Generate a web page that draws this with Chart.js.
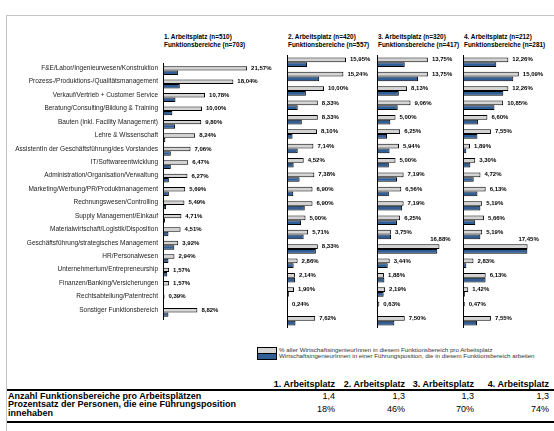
<!DOCTYPE html>
<html>
<head>
<meta charset="utf-8">
<script src="https://cdn.jsdelivr.net/npm/chart.js@4/dist/chart.umd.min.js"></script>
<style>
  body { margin: 0; background: #fff; }
  #page { position: relative; width: 554px; height: 431px; overflow: hidden; font-family: "Liberation Sans", Arial, sans-serif; color: #000; }
  #frame { position: absolute; left: 6px; top: 15px; width: 600px; height: 500px; border-left: 1px solid #c4c4c4; border-top: 1px solid #c4c4c4; }
  canvas { position: absolute; top: 55px; }
  .kopf { position: absolute; top: 33px; font-size: 6.4px; font-weight: bold; line-height: 8px; white-space: nowrap; }
  .leg { position: absolute; left: 279px; font-size: 6.2px; color: #333; white-space: nowrap; line-height: 6px; }
  .box { position: absolute; left: 257px; width: 18px; border: 1px solid #000; }
  .zelle { position: absolute; font-size: 9px; white-space: nowrap; line-height: 9px; }
  .linie { position: absolute; left: 7px; width: 547px; height: 2px; background: #000; }
</style>
</head>
<body>
<div id="page">
  <div id="frame"></div>
</div>
<script>
const bereiche = [
  "F&E/Labor/Ingenieurwesen/Konstruktion",
  "Prozess-/Produktions-/Qualitätsmanagement",
  "Verkauf/Vertrieb + Customer Service",
  "Beratung/Consulting/Bildung & Training",
  "Bauten (inkl. Facility Management)",
  "Lehre & Wissenschaft",
  "AssistentIn der Geschäftsführung/des Vorstandes",
  "IT/Softwareentwicklung",
  "Administration/Organisation/Verwaltung",
  "Marketing/Werbung/PR/Produktmanagement",
  "Rechnungswesen/Controlling",
  "Supply Management/Einkauf",
  "Materialwirtschaft/Logistik/Disposition",
  "Geschäftsführung/strategisches Management",
  "HR/Personalwesen",
  "Unternehmertum/Entrepreneurship",
  "Finanzen/Banking/Versicherungen",
  "Rechtsabteilung/Patentrecht",
  "Sonstiger Funktionsbereich"
];

const platzTitel = ["1. Arbeitsplatz (n=510)", "2. Arbeitsplatz (n=420)", "3. Arbeitsplatz (n=320)", "4. Arbeitsplatz (n=212)"];
const bereichTitel = ["Funktionsbereiche (n=703)", "Funktionsbereiche (n=557)", "Funktionsbereiche (n=417)", "Funktionsbereiche (n=281)"];

// % aller WirtschaftsingenieurInnen im Funktionsbereich
const alle1 = [21.57, 18.04, 10.78, 10.00, 9.80, 8.24, 7.06, 6.47, 6.27, 5.69, 5.49, 4.71, 4.51, 3.92, 2.94, 1.57, 1.57, 0.39, 8.82];
const alle2 = [15.95, 15.24, 10.00, 8.33, 8.33, 8.10, 7.14, 4.52, 7.38, 6.90, 6.90, 5.00, 5.71, 8.33, 2.86, 2.14, 1.90, 0.24, 7.62];
const alle3 = [13.75, 13.75, 8.13, 9.06, 5.00, 6.25, 5.94, 5.00, 7.19, 6.56, 7.19, 6.25, 3.75, 16.88, 3.44, 1.88, 2.19, 0.63, 7.50];
const alle4 = [12.26, 15.09, 12.26, 10.85, 6.60, 7.55, 1.89, 3.30, 4.72, 6.13, 5.19, 5.66, 5.19, 17.45, 2.83, 6.13, 1.42, 0.47, 7.55];

// WirtschaftsingenieurInnen in Führungsposition (geschätzt)
const fuehrung1 = [3.9, 4.3, 3.2, 2.4, 3.1, 0.6, 2.0, 2.0, 1.5, 1.5, 0.8, 0.5, 1.4, 2.9, 1.4, 1.1, 0, 0.25, 1.4];
const fuehrung2 = [5.4, 8.7, 5.1, 2.9, 4.0, 1.5, 2.9, 1.8, 3.4, 1.7, 4.8, 3.8, 4.5, 7.8, 1.8, 2.2, 0.5, 0, 2.3];
const fuehrung3 = [7.5, 11.1, 5.9, 5.6, 3.6, 2.7, 3.4, 3.2, 5.4, 3.2, 6.8, 5.4, 3.8, 16.3, 2.9, 2.0, 1.8, 0, 4.7];
const fuehrung4 = [9.0, 13.6, 10.9, 8.5, 4.1, 3.9, 0.9, 2.0, 2.9, 3.9, 4.7, 3.3, 4.7, 17.4, 0.9, 6.1, 0.5, 0, 3.8];

const legende = [
  "% aller WirtschaftsingenieurInnen in diesem Funktionsbereich pro Arbeitsplatz",
  "WirtschaftsingenieurInnen in einer Führungsposition, die in diesem Funktionsbereich arbeiten"
];

const spalten = ["1. Arbeitsplatz", "2. Arbeitsplatz", "3. Arbeitsplatz", "4. Arbeitsplatz"];
const zeilen = ["Anzahl Funktionsbereiche pro Arbeitsplätzen", "Prozentsatz der Personen, die eine Führungsposition innehaben"];
const anzahlBereiche = [1.4, 1.3, 1.3, 1.3];
const fuehrungsQuote = [18, 46, 70, 74];

const FONT = "'Liberation Sans', Arial, sans-serif";
const GRAU = "#d4d4d4";
const BLAU = "#2f5f96";
const komma = (v, d) => v.toFixed(d).replace(".", ",");

const werteLabels = {
  id: "werte",
  afterDatasetsDraw(chart, args, opts) {
    const ctx = chart.ctx;
    ctx.save();
    ctx.font = "bold 6px " + FONT;
    ctx.fillStyle = "#000";
    ctx.textBaseline = "middle";
    chart.getDatasetMeta(0).data.forEach((bar, i) => {
      const txt = komma(chart.data.datasets[0].data[i], 2) + "%";
      const w = ctx.measureText(txt).width;
      if (bar.x + 4 + w > opts.grenze) {
        ctx.textAlign = "center";
        ctx.fillText(txt, bar.x + 1, bar.y - 7);
      } else {
        ctx.textAlign = "left";
        ctx.fillText(txt, bar.x + 4, bar.y);
      }
    });
    ctx.restore();
  }
};

const panels = [
  { left: 0, achse: 163, breite: 97.5, namen: true, grenze: 283, alle: alle1, fuehrung: fuehrung1 },
  { left: 283, achse: 4, breite: 92.5, namen: false, grenze: 374, alle: alle2, fuehrung: fuehrung2 },
  { left: 373, achse: 4, breite: 92.5, namen: false, grenze: 459, alle: alle3, fuehrung: fuehrung3 },
  { left: 459, achse: 4, breite: 92.5, namen: false, grenze: 551, alle: alle4, fuehrung: fuehrung4 }
];

const page = document.getElementById("page");

panels.forEach((p, n) => {
  const kopf = document.createElement("div");
  kopf.className = "kopf";
  kopf.style.left = (p.left + p.achse + 1) + "px";
  kopf.innerHTML = platzTitel[n] + "<br>" + bereichTitel[n];
  page.appendChild(kopf);

  const canvas = document.createElement("canvas");
  const w = Math.ceil(p.achse + p.breite + 30);
  canvas.width = w;
  canvas.height = 273;
  canvas.style.left = p.left + "px";
  page.appendChild(canvas);

  new Chart(canvas, {
    type: "bar",
    data: {
      labels: bereiche,
      datasets: [
        { data: p.alle, backgroundColor: GRAU, borderColor: "#000", borderWidth: 1, borderSkipped: false, categoryPercentage: 0.66, barPercentage: 1 },
        { data: p.fuehrung, backgroundColor: BLAU, borderColor: "#000", borderWidth: 1, borderSkipped: false, categoryPercentage: 0.66, barPercentage: 1 }
      ]
    },
    options: {
      indexAxis: "y",
      responsive: false,
      animation: false,
      devicePixelRatio: 1,
      layout: { padding: { left: 0, top: 0, bottom: 0, right: w - p.achse - p.breite } },
      plugins: {
        legend: { display: false },
        tooltip: { enabled: false },
        werte: { grenze: p.grenze - p.left }
      },
      scales: {
        x: { display: false, min: 0, max: 25 },
        y: {
          afterFit: s => { s.width = p.achse; },
          grid: { display: false, drawTicks: false },
          border: { display: true, color: "#000", width: 1 },
          ticks: { display: p.namen, padding: 5, labelOffset: -2.5, autoSkip: false, color: "#222", font: { family: FONT, size: 6.5 } }
        }
      }
    },
    plugins: [werteLabels]
  });
});

// Legende
[GRAU, BLAU].forEach((farbe, i) => {
  const b = document.createElement("div");
  b.className = "box";
  b.style.top = (347 + i * 6) + "px";
  b.style.height = "5px";
  b.style.background = farbe;
  page.appendChild(b);
  const t = document.createElement("div");
  t.className = "leg";
  t.style.top = (347 + i * 6) + "px";
  t.textContent = legende[i];
  page.appendChild(t);
});

// Tabelle
const rechts = [335, 405, 474, 549];
function zelle(text, x, y, bold, rechtsbuendig) {
  const d = document.createElement("div");
  d.className = "zelle";
  d.style.top = y + "px";
  if (rechtsbuendig) d.style.right = (554 - x) + "px"; else d.style.left = x + "px";
  if (bold) d.style.fontWeight = "bold";
  d.textContent = text;
  page.appendChild(d);
}
spalten.forEach((s, i) => zelle(s, rechts[i], 380, true, true));
zelle(zeilen[0], 8, 392, true, false);
anzahlBereiche.forEach((v, i) => zelle(komma(v, 1), rechts[i], 392, false, true));
const z2 = document.createElement("div");
z2.className = "zelle";
z2.style.cssText = "left:8px;top:400px;width:240px;white-space:normal;font-weight:bold;";
z2.textContent = zeilen[1];
page.appendChild(z2);
fuehrungsQuote.forEach((v, i) => zelle(v + "%", rechts[i], 405, false, true));
[389, 421].forEach(y => {
  const l = document.createElement("div");
  l.className = "linie";
  l.style.top = y + "px";
  page.appendChild(l);
});
</script>
</body>
</html>
